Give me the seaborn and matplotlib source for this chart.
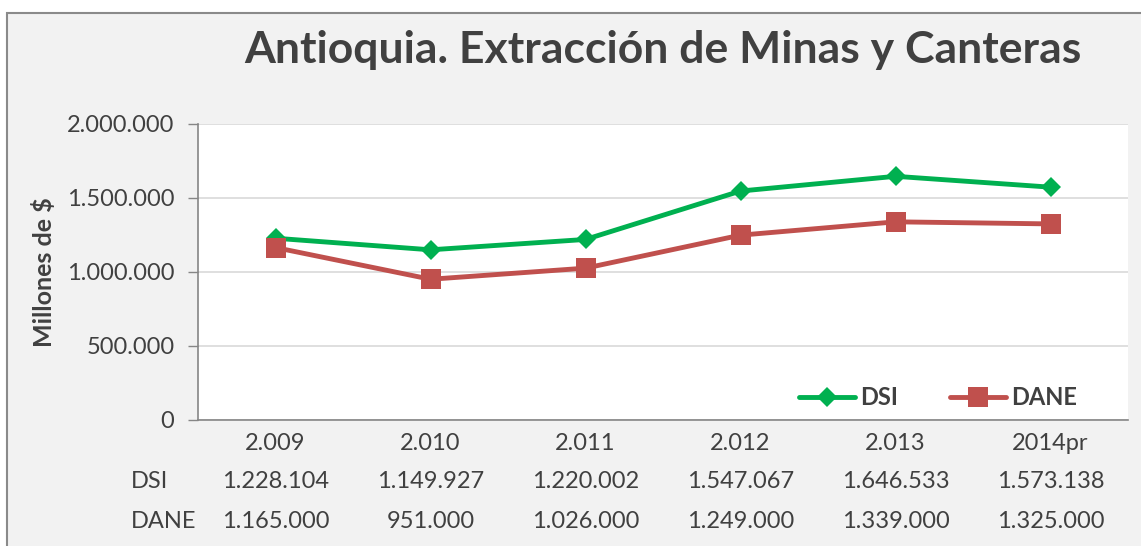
import matplotlib
matplotlib.use("Agg")
import matplotlib.pyplot as plt
import seaborn as sns
import pandas as pd
from matplotlib.patches import Rectangle

categories = ["2.009", "2.010", "2.011", "2.012", "2.013", "2014pr"]
dsi = [1228104, 1149927, 1220002, 1547067, 1646533, 1573138]
dane = [1165000, 951000, 1026000, 1249000, 1339000, 1325000]
series_names = ["DSI", "DANE"]
yticks = [0, 500000, 1000000, 1500000, 2000000]

def fmt(v):
    return f"{v:,}".replace(",", ".")

sns.set_theme(style="white")
plt.rcParams['font.family'] = ['Lato', 'DejaVu Sans']

FS = 17
W, H = 1141, 546
fig = plt.figure(figsize=(W / 100, H / 100), dpi=100, facecolor="white")
fig.patches.append(Rectangle((7 / W, -0.1), 1.2, 1 - 13 / H + 0.1, transform=fig.transFigure,
                             facecolor="#f2f2f2", edgecolor="#8a8a8a", linewidth=1.5, zorder=-10))

ax = fig.add_axes([198 / W, 1 - 420 / H, (1128 - 198) / W, (420 - 124) / H])
ax.set_facecolor("white")
ax.set_zorder(5)

idx = list(range(len(categories)))
df = pd.DataFrame({
    "x": idx * 2,
    "value": dsi + dane,
    "serie": [series_names[0]] * len(dsi) + [series_names[1]] * len(dane),
})
sns.lineplot(data=df, x="x", y="value", hue="serie", style="serie",
             palette={"DSI": "#00b050", "DANE": "#c0504d"},
             markers={"DSI": "D", "DANE": "s"}, dashes=False,
             linewidth=3.5, markersize=12, markeredgewidth=0, ax=ax, legend=True)
for line in ax.lines:
    if line.get_marker() == "s":
        line.set_markersize(14)
    elif line.get_marker() == "D":
        line.set_markersize(10)

ax.set_xlim(-0.5, len(categories) - 0.5)
ax.set_ylim(0, 2000000)
ax.set_yticks(yticks)
ax.set_yticklabels([fmt(v) for v in yticks], fontsize=FS, color="#404040")
ax.grid(axis="y", color="#d9d9d9", linewidth=1.2)
ax.set_axisbelow(True)
ax.set_xticks(idx)
ax.set_xticklabels(categories, fontsize=FS, color="#404040")
ax.tick_params(axis="x", length=0, pad=9)
ax.tick_params(axis="y", length=7, width=1, color="#868686", left=True, pad=10)
for s in ["top", "right"]:
    ax.spines[s].set_visible(False)
for s in ["left", "bottom"]:
    ax.spines[s].set_color("#868686")
    ax.spines[s].set_linewidth(1.2)
ax.set_xlabel("")
ax.set_ylabel("Millones de $", fontsize=FS + 1, fontweight="bold", color="#404040", labelpad=8)

leg = ax.legend(loc="lower right", ncol=2, frameon=False, fontsize=FS,
                handlelength=2.4, columnspacing=2.2, handletextpad=0.2,
                bbox_to_anchor=(0.968, -0.035))
for t in leg.get_texts():
    t.set_fontweight("bold")
    t.set_color("#404040")

# data table
row_y = [481, 522]
for r, (name, vals) in enumerate(zip(series_names, [dsi, dane])):
    yf = 1 - row_y[r] / H
    fig.text(131 / W, yf, name, fontsize=FS, color="#404040", va="center", ha="left")
    for i, v in enumerate(vals):
        xd = ax.transData.transform((i, 0))[0]
        fig.text(xd / W, yf, fmt(v), fontsize=FS, color="#404040", va="center", ha="center")

fig.text(663 / W, 1 - 50 / H, "Antioquia. Extracción de Minas y Canteras",
         fontsize=32, fontweight="bold", color="#404040", ha="center", va="center")

fig.savefig("out.png", dpi=100, facecolor=fig.get_facecolor())
